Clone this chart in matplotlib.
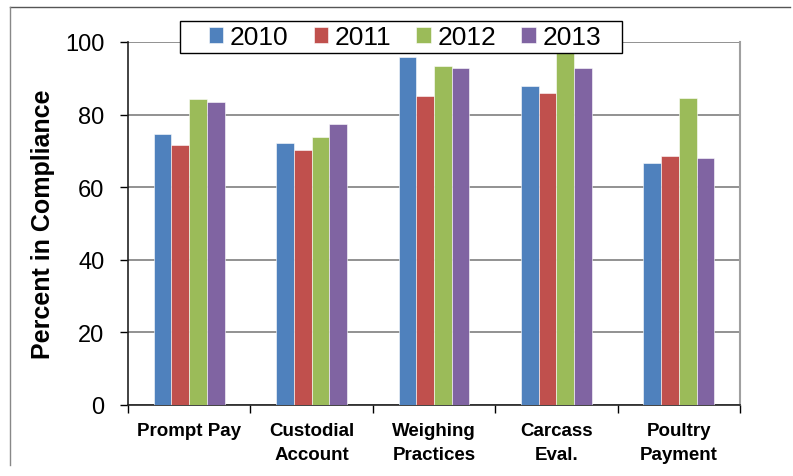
import numpy as np
import matplotlib.pyplot as plt
from matplotlib.lines import Line2D
from matplotlib.patches import Rectangle

plt.rcParams['font.family'] = ['Liberation Sans', 'DejaVu Sans']

categories = ["Prompt Pay", "Custodial\nAccount", "Weighing\nPractices", "Carcass\nEval.", "Poultry\nPayment"]
years = ["2010", "2011", "2012", "2013"]
v2010 = [74.6, 72.2, 95.9, 88.0, 66.7]
v2011 = [71.5, 70.2, 85.1, 86.0, 68.7]
v2012 = [84.2, 73.8, 93.4, 98.0, 84.5]
v2013 = [83.5, 77.4, 92.7, 92.7, 68.0]
colors = ["#4F81BD", "#C0504D", "#9BBB59", "#8064A2"]

fig = plt.figure(figsize=(7.93, 4.77), dpi=100)
ax = fig.add_axes([128/793, 71/477, 612/793, 363/477])

x = np.arange(len(categories))
w = 0.145
series = [v2010, v2011, v2012, v2013]
for i, vals in enumerate(series):
    ax.bar(x + (i - 1.5) * w, vals, w, color=colors[i], label=years[i],
           edgecolor="white", linewidth=0.4, zorder=3)

ax.set_xlim(-0.5, len(categories) - 0.5)
ax.set_ylim(0, 100)
ax.set_yticks([0, 20, 40, 60, 80, 100])
ax.tick_params(axis='y', labelsize=17, length=6, width=1, direction='out', pad=11)
ax.set_xticks(x)
ax.set_xticklabels(categories, fontsize=13.5, fontweight='bold', linespacing=1.6)
ax.tick_params(axis='x', length=0, pad=12)
ax.set_xticks(np.arange(len(categories) + 1) - 0.5, minor=True)
ax.tick_params(axis='x', which='minor', length=6, width=1, direction='out')
ax.grid(axis='y', color='#7f7f7f', linewidth=1.2, zorder=0)
ax.set_axisbelow(True)

for s in ['left', 'bottom']:
    ax.spines[s].set_color('#222222')
    ax.spines[s].set_linewidth(1.2)
ax.spines['right'].set_color('#a0a0a0')
ax.spines['right'].set_linewidth(1.5)
ax.spines['top'].set_visible(False)

ax.set_ylabel("Percent in Compliance", fontsize=18, fontweight='bold', labelpad=7.5)

# legend box drawn separately so its size matches the original
box = Rectangle((180/793, 1 - 54/477), 442/793, 32/477, transform=fig.transFigure,
                facecolor='white', edgecolor='black', linewidth=1.0, zorder=10)
fig.add_artist(box)
handles, labels = ax.get_legend_handles_labels()
leg = fig.legend(handles, labels, loc='center', bbox_to_anchor=(405/793, 1 - 38/477),
                 ncol=4, fontsize=19, frameon=False, handlelength=0.55,
                 handleheight=0.55, handletextpad=0.25, columnspacing=0.95, borderpad=0.1)
leg.set_zorder(11)

# outer frame lines
fig.add_artist(Line2D([10/793, 790/793], [1 - 8/477, 1 - 8/477], color='#555555', linewidth=1.0))
fig.add_artist(Line2D([10/793, 10/793], [1 - 8/477, 1 - 466/477], color='#888888', linewidth=1.0))

fig.savefig("out.png", dpi=100)
